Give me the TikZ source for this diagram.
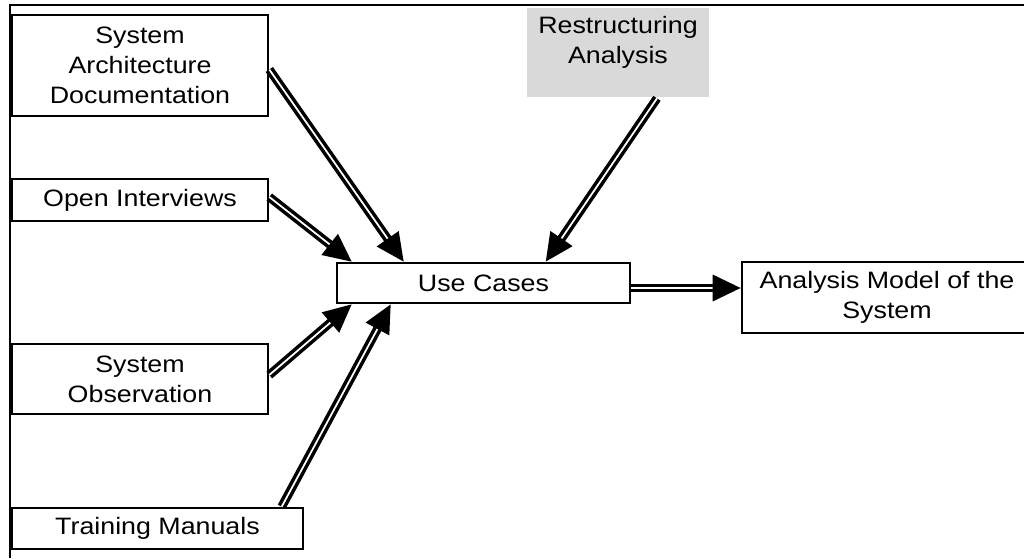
\documentclass[tikz,border=0pt]{standalone}
\usepackage{fontspec}
\setmainfont{Liberation Sans}[FakeStretch=1.13]
\usepackage{tikz}
\usetikzlibrary{arrows.meta,positioning,calc}
\definecolor{boxgray}{RGB}{217,217,217}

\begin{document}
\begin{tikzpicture}[x=0.02cm,y=-0.02cm,
    box/.style={draw,line width=1.5pt,inner sep=0pt,align=center,font=\fontsize{13.5}{17}\selectfont},
    flow/.style={double,double distance=1pt,line width=2pt,-{Triangle[length=0.56cm,width=0.52cm]}}]
  \useasboundingbox (0,0) rectangle (1024,558);
  % frame
  \draw[line width=1.5pt] (10,558) -- (10,5) -- (1024,5);
  % sources
  \node[box,minimum width=5.12cm,minimum height=2.02cm] (sad) at (140,65.5) {System\\Architecture\\Documentation};
  \node[box,minimum width=5.12cm,minimum height=0.84cm] (open) at (140,200) {Open Interviews};
  \node[box,minimum width=5.12cm,minimum height=1.40cm] (obs) at (140,379) {System\\Observation};
  \node[box,minimum width=5.82cm,minimum height=0.82cm] (train) at (157.5,528.5) {Training Manuals};
  \node[box,draw=none,fill=boxgray,minimum width=3.64cm,minimum height=1.78cm] (restr) at (618,52.5) {};
  \node[box,draw=none] (restrtxt) at (618,42.5) {Restructuring\\Analysis};
  % use cases and result
  \node[box,minimum width=5.86cm,minimum height=0.80cm] (uc) at (483.5,283) {Use Cases};
  \node[box,minimum width=5.80cm,minimum height=1.42cm] (model) at (887,297.5) {Analysis Model of the\\System};
  % arrows
  \draw[flow] ($(sad.east)+(0,4)$) -- ($(uc.north west)+(68,0)$);
  \draw[flow] ($(open.east)+(0,-3)$) -- ($(uc.north west)+(16,0)$);
  \draw[flow] ($(restr.south)+(39,0)$) -- ($(uc.north west)+(210,0)$);
  \draw[flow] ($(obs.east)+(0,-4)$) -- ($(uc.south west)+(16,0)$);
  \draw[flow] ($(train.north west)+(271,0)$) -- ($(uc.south west)+(55,0)$);
  \coordinate (ucout) at ($(uc.east)+(0,5)$);
  \draw[flow] (ucout) -- (model.west |- ucout);
\end{tikzpicture}
\end{document}
